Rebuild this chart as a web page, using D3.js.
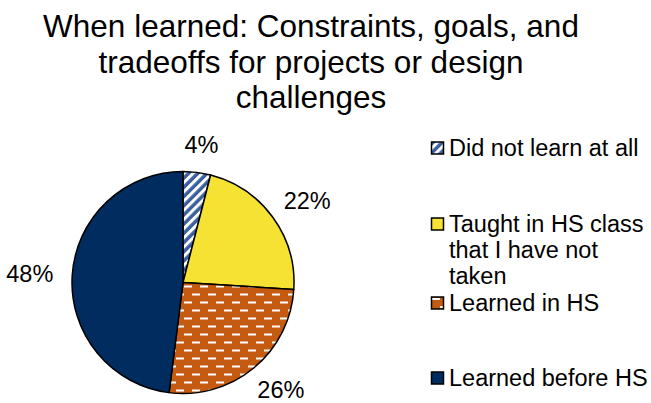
<!DOCTYPE html>
<html>
<head>
<meta charset="utf-8">
<script src="https://cdn.jsdelivr.net/npm/d3@7"></script>
<style>
  body { margin: 0; background: #fff; }
  text { font-family: "Liberation Sans", Arial, sans-serif; fill: #000; }
</style>
</head>
<body>
<div id="chart"></div>
<script>
// data
var titleLines = ["When learned: Constraints, goals, and", "tradeoffs for projects or design", "challenges"];
var categories = ["Did not learn at all", "Taught in HS class that I have not taken", "Learned in HS", "Learned before HS"];
var values = [4, 22, 26, 48];
var legendLines = [["Did not learn at all"], ["Taught in HS class", "that I have not", "taken"], ["Learned in HS"], ["Learned before HS"]];
var fills = ["url(#hatch)", "#F5E232", "url(#dashes)", "#002C5F"];

var width = 651, height = 403;
var cx = 183, cy = 282.5, radius = 111;

var svg = d3.select("#chart")
    .append("svg")
    .attr("width", width)
    .attr("height", height);

// patterns
var defs = svg.append("defs");

var hatch = defs.append("pattern")
    .attr("id", "hatch")
    .attr("patternUnits", "userSpaceOnUse")
    .attr("width", 6.5)
    .attr("height", 6.5)
    .attr("patternTransform", "rotate(45)");
hatch.append("rect").attr("width", 6.5).attr("height", 6.5).attr("fill", "#3A5F9E");
hatch.append("rect").attr("width", 3).attr("height", 6.5).attr("fill", "#fff");

var dashes = defs.append("pattern")
    .attr("id", "dashes")
    .attr("patternUnits", "userSpaceOnUse")
    .attr("width", 16)
    .attr("height", 16)
    .attr("x", 0)
    .attr("y", 3);
dashes.append("rect").attr("width", 16).attr("height", 16).attr("fill", "#C55A11");
dashes.append("rect").attr("x", 1).attr("y", 0).attr("width", 8).attr("height", 2).attr("fill", "#fff");
dashes.append("rect").attr("x", 9).attr("y", 8).attr("width", 8).attr("height", 2).attr("fill", "#fff");
dashes.append("rect").attr("x", -7).attr("y", 8).attr("width", 8).attr("height", 2).attr("fill", "#fff");

// title
svg.append("g").selectAll("text")
    .data(titleLines)
    .enter()
    .append("text")
    .attr("x", 311)
    .attr("y", function(d, i) { return 37 + i * 35.5; })
    .attr("text-anchor", "middle")
    .style("font-size", "31.5px")
    .text(function(d) { return d; });

// pie
var pie = d3.pie().sort(null).value(function(d) { return d; });
var arc = d3.arc().innerRadius(0).outerRadius(radius);
var arcs = pie(values);
var total = d3.sum(values);

var g = svg.append("g")
    .attr("transform", "translate(" + cx + "," + cy + ")");

g.selectAll("path")
    .data(arcs)
    .enter()
    .append("path")
    .attr("d", arc)
    .attr("fill", function(d, i) { return fills[i]; })
    .attr("stroke", "#000")
    .attr("stroke-width", 1.5)
    .attr("stroke-linejoin", "round");

// labels (outside end, box nudged away from the pie)
var labelR = 130;
g.selectAll("text.pct")
    .data(arcs)
    .enter()
    .append("text")
    .attr("class", "pct")
    .attr("text-anchor", "middle")
    .attr("dy", "0.35em")
    .style("font-size", "23.5px")
    .text(function(d) { return Math.round(d.value / total * 100) + "%"; })
    .each(function(d) {
        var a = (d.startAngle + d.endAngle) / 2;
        var w = this.getComputedTextLength();
        var h = 18;
        var x = Math.sin(a) * (labelR + w / 2);
        var y = -Math.cos(a) * (labelR + h / 2);
        d3.select(this).attr("x", x).attr("y", y);
    });

// legend
var legend = svg.append("g")
    .attr("transform", "translate(431,0)");

var baselines = [156, 232, 311, 386];

categories.forEach(function(c, i) {
    var row = legend.append("g")
        .attr("transform", "translate(0," + baselines[i] + ")");

    row.append("rect")
        .attr("x", 0.5)
        .attr("y", -14)
        .attr("width", 12)
        .attr("height", 12)
        .attr("fill", fills[i])
        .attr("stroke", "#000")
        .attr("stroke-width", 1.5);

    row.selectAll("text")
        .data(legendLines[i])
        .enter()
        .append("text")
        .attr("x", 18)
        .attr("y", function(d, j) { return j * 26; })
        .style("font-size", "23.5px")
        .text(function(d) { return d; });
});
</script>
</body>
</html>
